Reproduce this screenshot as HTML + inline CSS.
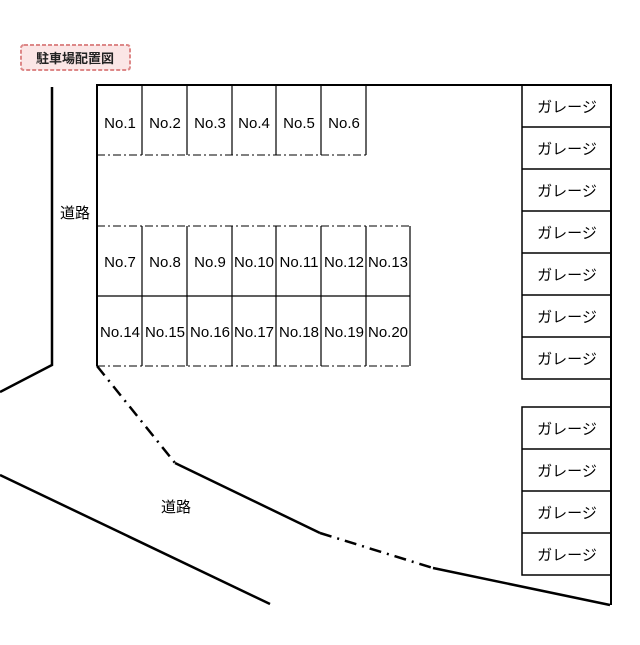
<!DOCTYPE html>
<html><head><meta charset="utf-8"><style>
body{margin:0;background:#fff;}
svg text{font-family:"Liberation Sans","Noto Sans CJK JP",sans-serif;}
svg text.n{font-family:"Liberation Sans Narrow","Liberation Sans",sans-serif;}
</style></head><body>
<svg width="640" height="640" viewBox="0 0 640 640" xmlns="http://www.w3.org/2000/svg">
<rect x="21" y="45" width="109" height="25" rx="3" fill="#fbe6e6" stroke="#d88" stroke-width="2" stroke-dasharray="4,2"/>
<text x="75" y="63" font-size="13" font-weight="bold" text-anchor="middle" fill="#222">駐車場配置図</text>
<g stroke="#000" fill="none">
<polyline points="52,87 52,365 0,392" stroke-width="2.5"/>
<polyline points="97,366 97,85 611,85 611,605" stroke-width="2"/>
<line x1="0" y1="475" x2="270" y2="604" stroke-width="2.5"/>
<line x1="97" y1="366" x2="175" y2="463" stroke-width="2.5" stroke-dasharray="12,6,2,6"/>
<polyline points="175,463 320,533" stroke-width="2.5"/>
<line x1="320" y1="533" x2="433" y2="568" stroke-width="2.5" stroke-dasharray="12,6,2,6"/>
<line x1="433" y1="568" x2="610" y2="605" stroke-width="2.5"/>
<g stroke-width="1.2">
<line x1="142" y1="85" x2="142" y2="155"/><line x1="187" y1="85" x2="187" y2="155"/><line x1="232" y1="85" x2="232" y2="155"/><line x1="276" y1="85" x2="276" y2="155"/><line x1="321" y1="85" x2="321" y2="155"/><line x1="366" y1="85" x2="366" y2="155"/>
<line x1="142" y1="226" x2="142" y2="366"/><line x1="187" y1="226" x2="187" y2="366"/><line x1="232" y1="226" x2="232" y2="366"/><line x1="276" y1="226" x2="276" y2="366"/><line x1="321" y1="226" x2="321" y2="366"/><line x1="366" y1="226" x2="366" y2="366"/><line x1="410" y1="226" x2="410" y2="366"/>
<line x1="97" y1="296" x2="410" y2="296"/>
</g>
<g stroke-width="1" stroke-dasharray="8,3,2,3">
<line x1="97" y1="155" x2="366" y2="155"/>
<line x1="97" y1="226" x2="410" y2="226"/>
<line x1="97" y1="366" x2="410" y2="366"/>
</g>
<g stroke-width="1.5">
<rect x="522" y="85" width="89" height="294"/>
<line x1="522" y1="127" x2="611" y2="127"/><line x1="522" y1="169" x2="611" y2="169"/><line x1="522" y1="211" x2="611" y2="211"/><line x1="522" y1="253" x2="611" y2="253"/><line x1="522" y1="295" x2="611" y2="295"/><line x1="522" y1="337" x2="611" y2="337"/>
<rect x="522" y="407" width="89" height="168"/>
<line x1="522" y1="449" x2="611" y2="449"/><line x1="522" y1="491" x2="611" y2="491"/><line x1="522" y1="533" x2="611" y2="533"/>
</g>
</g>
<g font-size="15" text-anchor="middle" fill="#000">
<text x="75" y="218">道路</text>
<text x="176" y="512">道路</text>
</g>
<g font-size="15" text-anchor="middle" fill="#000">
<text class="n" x="120" y="128">No.1</text><text class="n" x="165" y="128">No.2</text><text class="n" x="210" y="128">No.3</text><text class="n" x="254" y="128">No.4</text><text class="n" x="299" y="128">No.5</text><text class="n" x="344" y="128">No.6</text>
<text class="n" x="120" y="267">No.7</text><text class="n" x="165" y="267">No.8</text><text class="n" x="210" y="267">No.9</text><text class="n" x="254" y="267">No.10</text><text class="n" x="299" y="267">No.11</text><text class="n" x="344" y="267">No.12</text><text class="n" x="388" y="267">No.13</text>
<text class="n" x="120" y="337">No.14</text><text class="n" x="165" y="337">No.15</text><text class="n" x="210" y="337">No.16</text><text class="n" x="254" y="337">No.17</text><text class="n" x="299" y="337">No.18</text><text class="n" x="344" y="337">No.19</text><text class="n" x="388" y="337">No.20</text>
</g>
<g font-size="15" text-anchor="middle" fill="#000">
<text x="567" y="112">ガレージ</text><text x="567" y="154">ガレージ</text><text x="567" y="196">ガレージ</text><text x="567" y="238">ガレージ</text><text x="567" y="280">ガレージ</text><text x="567" y="322">ガレージ</text><text x="567" y="364">ガレージ</text>
<text x="567" y="434">ガレージ</text><text x="567" y="476">ガレージ</text><text x="567" y="518">ガレージ</text><text x="567" y="560">ガレージ</text>
</g>
</svg>
</body></html>
